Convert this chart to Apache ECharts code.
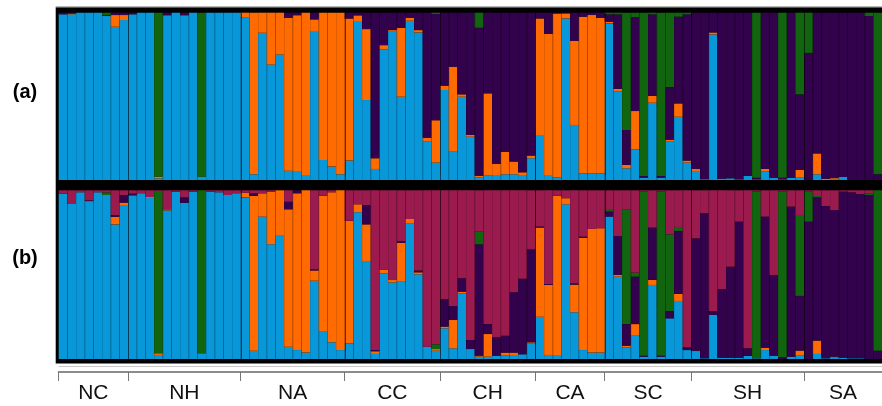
<!DOCTYPE html>
<html><head><meta charset="utf-8">
<script src="https://cdn.jsdelivr.net/npm/echarts@6/dist/echarts.min.js"></script>
<style>html,body{margin:0;padding:0;background:#fff}#c{width:882px;height:406px}</style>
</head><body><div id="c"></div>
<script>
// populations and number of individuals per population
const groups = ['NC','NH','NA','CC','CH','CA','SC','SH','SA'];
const groupSizes = [8,13,12,11,11,8,10,13,9];

// Panel (a): 4 clusters (blue, orange, purple, green)
const aBlue = [0.99,0.99,1,1,1,0.98,0.916,0.956,
 0.99,1,1,0.01,0.985,1,0.985,1,0.02,1,1,1,1,
 0.97,0.034,0.88,0.69,0.75,0.056,0.05,0.03,0.89,0.12,0.08,0.034,
 0.116,0.95,0.478,0.066,0.78,0.886,0.498,0.952,0.882,0.229,0.104,
 0.538,0.173,0.498,0.259,0.016,0.026,0.03,0.034,0.034,0.03,0.13,
 0.269,0.03,0.016,0.966,0.329,0.04,0.04,0.04,
 0.936,0.528,0.07,0.183,0.014,0.462,0.014,0.229,0.378,0.104,
 0.054,0.005,0.87,0.008,0.01,0.004,0.024,0.004,0.05,0.014,0.004,0.014,0.014,
 0,0.034,0,0.008,0.018,0,0,0,0];
const aOrange = [0,0.005,0,0,0,0,0.07,0.03,
 0,0,0,0.01,0,0,0,0,0,0,0,0,0,
 0.03,0.966,0.12,0.31,0.25,0.914,0.935,0.97,0.07,0.88,0.92,0.966,
 0.849,0.034,0.424,0.064,0.026,0.01,0.412,0.018,0.014,0.024,0.253,
 0.026,0.504,0.014,0.01,0.01,0.492,0.066,0.135,0.076,0.016,0.016,
 0.697,0.843,0.979,0.03,0.502,0.936,0.946,0.93,
 0.01,0.016,0.02,0.229,0,0.04,0,0.01,0.08,0.012,
 0.012,0,0.012,0,0,0,0,0,0.016,0,0,0,0.046,
 0,0.125,0.006,0.006,0,0,0,0,0];
const aPurple = [0.01,0.005,0,0,0,0.005,0.014,0.014,
 0.01,0,0,0,0.015,0,0.015,0,0,0,0,0,0,
 0,0,0,0,0,0.03,0.015,0,0.04,0,0,0,
 0.035,0.016,0.098,0.87,0.194,0.104,0.09,0.03,0.104,0.747,0.635,
 0.436,0.323,0.488,0.731,0.884,0.482,0.904,0.831,0.89,0.954,0.854,
 0.034,0.127,0.005,0.004,0.169,0.024,0.014,0.03,
 0.044,0.446,0.209,0.562,0.01,0.488,0.01,0.317,0.518,0.874,
 0.934,0.995,0.118,0.992,0.99,0.996,0.976,0.01,0.934,0.986,0.01,0.986,0.452,
 0.76,0.841,0.994,0.986,0.982,1,1,0.98,0.034];
const aGreen = [0,0,0,0,0,0.015,0,0,
 0,0,0,0.98,0,0,0,0,0.98,0,0,0,0,
 0,0,0,0,0,0,0,0,0,0,0,0,
 0,0,0,0,0,0,0,0,0,0,0.008,
 0,0,0,0,0.09,0,0,0,0,0,0,
 0,0,0,0,0,0,0,0,
 0.01,0.01,0.701,0.026,0.976,0.01,0.976,0.444,0.024,0.01,
 0,0,0,0,0,0,0,0.986,0,0,0.986,0,0.488,
 0.24,0,0,0,0,0,0,0.02,0.966];

// Panel (b): 5 clusters (blue, orange, purple, green, magenta)
const bBlue = [0.98,0.919,0.988,0.932,0.988,0.972,0.798,0.913,
 0.97,0.982,0.954,0.024,0.881,0.992,0.926,0.992,0.034,0.992,0.988,0.972,0.982,
 0.958,0.049,0.844,0.68,0.735,0.073,0.053,0.038,0.464,0.162,0.099,0.053,
 0.093,0.87,0.581,0.03,0.506,0.454,0.462,0.804,0.502,0.073,0.049,
 0.182,0.063,0.389,0.059,0.014,0.014,0.02,0.02,0.024,0.028,0.093,
 0.251,0.024,0.02,0.917,0.277,0.053,0.038,0.038,
 0.844,0.488,0.069,0.138,0.014,0.439,0.014,0.241,0.344,0.053,
 0.043,0.004,0.261,0.008,0.008,0.008,0.018,0.004,0.053,0.02,0,0.014,0.02,
 0,0.03,0.004,0.008,0.008,0.004,0.004,0,0];
const bOrange = [0,0,0,0.004,0,0,0.045,0.014,
 0,0,0.006,0.01,0.006,0,0,0,0,0,0,0,0,
 0.028,0.919,0.138,0.312,0.265,0.814,0.929,0.962,0.061,0.806,0.889,0.947,
 0.727,0.047,0.217,0.016,0.022,0.014,0.227,0.026,0.012,0,0.01,
 0.01,0.168,0.01,0,0.006,0.134,0,0.018,0.014,0,0.006,
 0.528,0.415,0.948,0.036,0.164,0.666,0.733,0.737,
 0,0.01,0.01,0.069,0,0.03,0,0,0.042,0,
 0.006,0,0,0,0,0,0,0,0.014,0,0,0,0.03,
 0,0.079,0,0.006,0,0,0,0,0];
const bPurple = [0,0,0,0.004,0,0,0.01,0.045,
 0.01,0,0,0,0,0,0.032,0,0,0,0,0,0,
 0,0.014,0,0,0,0.045,0.018,0,0.006,0,0,0,
 0,0,0.115,0.008,0,0,0.01,0,0.01,0,0,
 0.162,0.083,0.079,0.053,0.66,0.059,0.109,0.1,0.358,0.447,0.551,
 0.006,0.006,0,0,0.006,0.006,0,0,
 0.03,0.231,0.128,0.281,0.006,0.31,0.006,0.043,0.373,0.016,
 0.666,0.86,0.024,0.407,0.539,0.806,0.045,0,0.777,0.478,0.01,0.889,0.324,
 0.814,0.849,0.903,0.869,0.984,0.984,0.974,0.972,0.049];
const bGreen = [0,0,0,0,0,0.016,0,0,
 0,0,0,0.962,0,0,0,0,0.966,0,0,0,0,
 0,0,0,0,0,0,0,0,0,0,0,0,
 0,0,0,0,0,0,0,0,0,0,0.028,
 0,0,0,0,0.075,0,0,0,0,0,0,
 0,0,0,0,0,0,0,0,
 0.01,0,0.68,0.024,0.972,0,0.972,0.455,0.024,0,
 0,0,0,0,0,0,0,0.988,0,0,0.982,0,0.474,
 0.178,0.008,0,0,0,0,0,0.01,0.951];
const bMagenta = [0.02,0.081,0.012,0.06,0.012,0.012,0.147,0.028,
 0.02,0.018,0.04,0.004,0.113,0.008,0.042,0.008,0,0.008,0.012,0.028,0.018,
 0.014,0.018,0.018,0.008,0,0.068,0,0,0.469,0.032,0.012,0,
 0.18,0.083,0.087,0.946,0.472,0.532,0.301,0.17,0.476,0.927,0.913,
 0.646,0.686,0.522,0.888,0.245,0.793,0.871,0.862,0.604,0.525,0.35,
 0.215,0.555,0.032,0.047,0.553,0.275,0.229,0.225,
 0.116,0.271,0.113,0.488,0.008,0.221,0.008,0.261,0.217,0.931,
 0.285,0.136,0.715,0.585,0.453,0.186,0.937,0.008,0.156,0.502,0.008,0.097,0.152,
 0.008,0.034,0.093,0.117,0.008,0.012,0.022,0.018,0];

const COL = {blue:'#0898DA', orange:'#FF6B00', purple:'#33024C', green:'#11650F', magenta:'#9B1B4E'};

const N = aBlue.length;
const individuals = Array.from({length:N}, (_, i) => 'ind' + (i+1));

function normalize(list){
  const out = list.map(a => a.slice());
  for (let i = 0; i < N; i++){
    let s = 0; list.forEach(a => s += a[i]);
    out.forEach(a => a[i] = s > 0 ? a[i] / s : 0);
  }
  return out;
}
const A = normalize([aBlue, aOrange, aPurple, aGreen]);
const B = normalize([bBlue, bOrange, bPurple, bGreen, bMagenta]);

const boundaries = [0];
groupSizes.forEach(s => boundaries.push(boundaries[boundaries.length-1] + s));
const centers = groupSizes.map((s, k) => boundaries[k] + s / 2);

function mk(name, data, color, idx, stack){
  return {type:'bar', name, data, stack, xAxisIndex:idx, yAxisIndex:idx,
    barCategoryGap:'0%', barGap:'0%', itemStyle:{color}, silent:true, animation:false};
}

const series = [
  mk('a-blue', A[0], COL.blue, 0, 'a'),
  mk('a-orange', A[1], COL.orange, 0, 'a'),
  mk('a-purple', A[2], COL.purple, 0, 'a'),
  mk('a-green', A[3], COL.green, 0, 'a'),
  mk('b-blue', B[0], COL.blue, 1, 'b'),
  mk('b-orange', B[1], COL.orange, 1, 'b'),
  mk('b-purple', B[2], COL.purple, 1, 'b'),
  mk('b-green', B[3], COL.green, 1, 'b'),
  mk('b-magenta', B[4], COL.magenta, 1, 'b')
];

const G = [
  {left:58.7, right:0, top:12.7, height:167.3},
  {left:58.7, right:0, top:190.3, height:168.7},
  {left:58.7, right:0, top:371, height:1}
];

const chart = echarts.init(document.getElementById('c'), null, {renderer:'canvas'});
chart.setOption({
  animation:false,
  backgroundColor:'#ffffff',
  grid:G,
  xAxis:[
    {type:'category', gridIndex:0, data:individuals, show:false},
    {type:'category', gridIndex:1, data:individuals, show:false},
    {type:'value', gridIndex:2, min:0, max:N, position:'bottom',
     splitLine:{show:false},
     axisLine:{show:true, lineStyle:{color:'#8c8c8c', width:2}},
     axisTick:{show:true, length:9, customValues:boundaries.slice(0, -1), lineStyle:{color:'#777', width:1}},
     axisLabel:{show:true, customValues:centers, margin:11, color:'#111', fontSize:21,
       fontFamily:'Liberation Sans, Arial, sans-serif',
       formatter:(v) => { const k = centers.findIndex(c => Math.abs(c - v) < 1e-6); return k >= 0 ? groups[k] : ''; }}}
  ],
  yAxis:[
    {type:'value', gridIndex:0, min:0, max:1, show:false},
    {type:'value', gridIndex:1, min:0, max:1, show:false},
    {type:'value', gridIndex:2, min:0, max:1, show:false}
  ],
  series
});

// frame, separators and panel labels
const els = [];
els.push({type:'rect', id:'frame', z:0, silent:true,
  shape:{x:55.7, y:7.3, width:840, height:356.2}, style:{fill:'#000'}});
els.push({type:'line', id:'topthin', z:0, silent:true,
  shape:{x1:55.7, y1:6.8, x2:882, y2:6.8}, style:{stroke:'#999', lineWidth:1}});
els.push({type:'line', id:'rulerthin', z:0, silent:true,
  shape:{x1:58.7, y1:366.5, x2:882, y2:366.5}, style:{stroke:'#c8c8c8', lineWidth:1}});
const panels = [[G[0].top, G[0].top + G[0].height], [G[1].top, G[1].top + G[1].height]];
for (let i = 1; i < N; i++){
  const x = Math.round(chart.convertToPixel({xAxisIndex:2}, i)) + 0.5;
  const isGroup = boundaries.indexOf(i) >= 0;
  panels.forEach((p, pi) => {
    els.push({type:'line', id:'sep'+pi+'_'+i, z:50, silent:true,
      shape:{x1:x, y1:p[0], x2:x, y2:p[1]},
      style:{stroke: isGroup ? 'rgba(0,0,0,0.6)' : 'rgba(0,0,0,0.10)', lineWidth:1}});
  });
}
els.push({type:'text', id:'la', z:60, style:{text:'(a)', x:25, y:92, fill:'#000',
  font:'bold 20px "Liberation Sans", Arial, sans-serif', textAlign:'center', textVerticalAlign:'middle'}});
els.push({type:'text', id:'lb', z:60, style:{text:'(b)', x:25, y:258, fill:'#000',
  font:'bold 20px "Liberation Sans", Arial, sans-serif', textAlign:'center', textVerticalAlign:'middle'}});
chart.setOption({graphic:{elements:els}});
</script>
</body></html>
